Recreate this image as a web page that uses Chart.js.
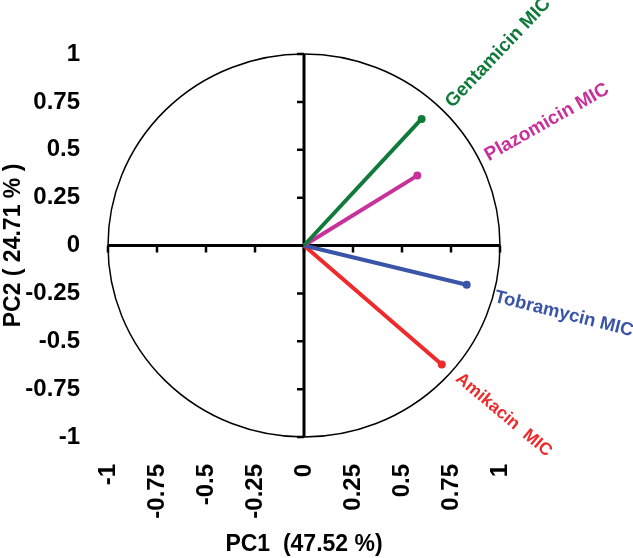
<!DOCTYPE html>
<html>
<head>
<meta charset="utf-8">
<script src="https://cdn.jsdelivr.net/npm/chart.js@4.4.1/dist/chart.umd.min.js"></script>
<style>
    html, body { margin: 0; padding: 0; background: #fff; }
    canvas { display: block; }
</style>
</head>
<body>
<canvas id="pca-chart" width="633" height="558"></canvas>
<script>
// Loadings on the first two components
const variables = ['Gentamicin MIC', 'Plazomicin MIC', 'Tobramycin MIC', 'Amikacin  MIC'];
const pc1 = [0.60, 0.578, 0.83, 0.703];
const pc2 = [0.661, 0.365, -0.205, -0.621];

// Axis ticks
const tickValues = [-1, -0.75, -0.5, -0.25, 0, 0.25, 0.5, 0.75, 1];
const tickLabels = ['-1', '-0.75', '-0.5', '-0.25', '0', '0.25', '0.5', '0.75', '1'];

const xTitle = 'PC1  (47.52 %)';
const yTitle = 'PC2 ( 24.71 % )';

// Styling
const colors = ['#107a3a', '#c8309a', '#3a55a8', '#ee2a2a'];
// label offset from arrow tip (px) and text angle (deg)
const labelStyle = [
    { dx: 27, dy: -14, angle: -46.5, size: 19 },
    { dx: 69, dy: -19, angle: -29.5, size: 19 },
    { dx: 28, dy: 12, angle: 14, size: 18.5 },
    { dx: 16, dy: 12, angle: 40, size: 17.5 }
];

const FONT = '"Liberation Sans", Arial, sans-serif';

// Build datasets: one vector per variable, from origin to loading
const datasets = variables.map((name, i) => ({
    label: name,
    data: [{ x: 0, y: 0 }, { x: pc1[i], y: pc2[i] }],
    showLine: true,
    borderColor: colors[i],
    backgroundColor: colors[i],
    borderWidth: 4,
    pointRadius: [0, 4],
    pointHoverRadius: [0, 4],
    pointBorderWidth: 0,
    borderCapStyle: 'butt',
    clip: false
}));

// Unit circle and centred axes
const circleAxes = {
    id: 'circleAxes',
    beforeDatasetsDraw(chart) {
        const { ctx, scales: { x, y } } = chart;
        const cx = x.getPixelForValue(0);
        const cy = y.getPixelForValue(0);
        const rx = x.getPixelForValue(1) - cx;
        const ry = cy - y.getPixelForValue(1);

        ctx.save();
        ctx.strokeStyle = '#000';
        ctx.lineWidth = 1.5;
        ctx.beginPath();
        ctx.ellipse(cx, cy, rx, ry, 0, 0, Math.PI * 2);
        ctx.stroke();

        ctx.lineWidth = 3;
        ctx.lineCap = 'butt';
        ctx.beginPath();
        ctx.moveTo(x.getPixelForValue(-1), cy);
        ctx.lineTo(x.getPixelForValue(1), cy);
        ctx.moveTo(cx, y.getPixelForValue(-1));
        ctx.lineTo(cx, y.getPixelForValue(1));
        ctx.stroke();

        ctx.lineWidth = 2.5;
        ctx.beginPath();
        tickValues.forEach(v => {
            const px = x.getPixelForValue(v);
            ctx.moveTo(px, cy);
            ctx.lineTo(px, cy + 7);
            const py = y.getPixelForValue(v);
            ctx.moveTo(cx, py);
            ctx.lineTo(cx - 7, py);
        });
        ctx.stroke();
        ctx.restore();
    }
};

// Rotated variable names next to each arrow tip
const vectorLabels = {
    id: 'vectorLabels',
    afterDatasetsDraw(chart) {
        const { ctx } = chart;
        ctx.save();
        variables.forEach((name, i) => {
            const tip = chart.getDatasetMeta(i).data[1];
            const s = labelStyle[i];
            ctx.save();
            ctx.translate(tip.x + s.dx, tip.y + s.dy);
            ctx.rotate(s.angle * Math.PI / 180);
            ctx.font = 'bold ' + s.size + 'px ' + FONT;
            ctx.fillStyle = colors[i];
            ctx.textAlign = 'left';
            ctx.textBaseline = 'middle';
            ctx.fillText(name.trim(), 0, 0);
            ctx.restore();
        });
        ctx.restore();
    }
};

const setTicks = scale => {
    scale.ticks = tickValues.map(v => ({ value: v }));
};

const ctx = document.getElementById('pca-chart').getContext('2d');
new Chart(ctx, {
    type: 'scatter',
    data: { datasets: datasets },
    options: {
        responsive: false,
        animation: false,
        layout: {
            padding: { left: 0, top: 54, right: 133, bottom: 0 }
        },
        plugins: {
            legend: { display: false },
            tooltip: { enabled: false }
        },
        scales: {
            x: {
                type: 'linear',
                position: 'bottom',
                min: -1,
                max: 1,
                afterBuildTicks: setTicks,
                afterFit: scale => { scale.height = 121; },
                grid: { display: false },
                border: { display: false },
                ticks: {
                    autoSkip: false,
                    minRotation: 90,
                    maxRotation: 90,
                    padding: 19,
                    color: '#000',
                    font: { family: FONT, size: 24, weight: 'bold' },
                    callback: (value, index) => tickLabels[index]
                },
                title: {
                    display: true,
                    text: xTitle,
                    color: '#000',
                    padding: 0,
                    font: { family: FONT, size: 23, weight: 'bold' }
                }
            },
            y: {
                type: 'linear',
                position: 'left',
                min: -1,
                max: 1,
                afterBuildTicks: setTicks,
                afterFit: scale => { scale.width = 108; },
                grid: { display: false },
                border: { display: false },
                ticks: {
                    autoSkip: false,
                    padding: 20,
                    color: '#000',
                    font: { family: FONT, size: 24, weight: 'bold' },
                    callback: (value, index) => tickLabels[index]
                },
                title: {
                    display: true,
                    text: yTitle,
                    color: '#000',
                    padding: 0,
                    font: { family: FONT, size: 23, weight: 'bold' }
                }
            }
        }
    },
    plugins: [circleAxes, vectorLabels]
});
</script>
</body>
</html>
